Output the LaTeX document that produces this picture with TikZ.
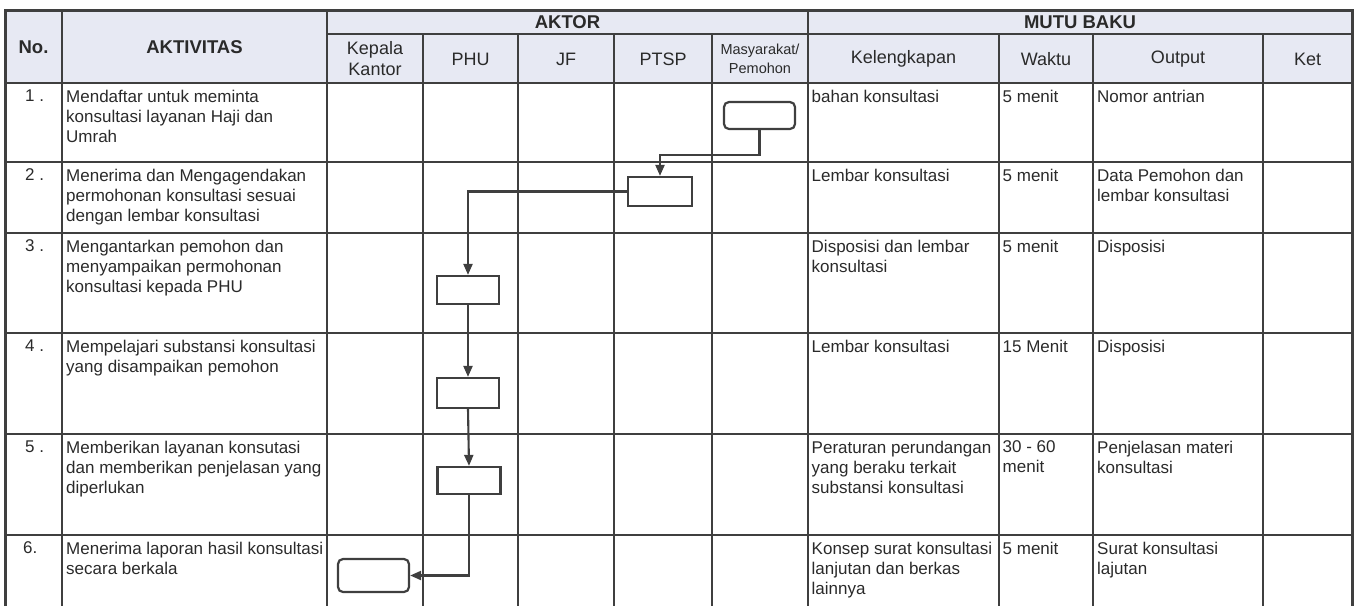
\documentclass[tikz,border=0pt]{standalone}
\usepackage{fontspec}
\setmainfont{Liberation Sans}
\usetikzlibrary{arrows.meta}
\definecolor{hdrfill}{HTML}{E7E9F3}
\definecolor{ink}{HTML}{2A2A2A}
\definecolor{rule}{HTML}{3F3F3F}

\begin{document}
\begin{tikzpicture}[x=1pt,y=-1pt,
    grid/.style={draw=rule,line width=2.1pt},
    frame/.style={draw=rule,line width=3pt},
    cell/.style={anchor=north west,inner sep=0pt,align=left,text=ink,
      font=\fontsize{17}{20}\selectfont},
    hd/.style={inner sep=0pt,align=center,text=ink,font=\fontsize{18}{21}\selectfont},
    hdb/.style={inner sep=0pt,align=center,text=ink,font=\fontsize{18.5}{21}\selectfont\bfseries},
    act/.style={draw=rule,line width=2.2pt,minimum width=63pt,minimum height=29pt,inner sep=0pt},
    term/.style={act,rounded corners=5pt,minimum width=71pt},
    flow/.style={draw=rule,line width=2.1pt,-{Triangle[length=11pt,width=9pt]}}]
    \useasboundingbox (0,0) rectangle (1360,606);
    \fill[hdrfill] (5,10) rectangle (1352,83);
    \draw[grid] (327,34) -- (1352,34);
    \draw[grid] (5,83) -- (1352,83);
    \draw[grid] (5,162) -- (1352,162);
    \draw[grid] (5,233) -- (1352,233);
    \draw[grid] (5,333) -- (1352,333);
    \draw[grid] (5,434) -- (1352,434);
    \draw[grid] (5,535) -- (1352,535);
    \draw[grid] (62,10) -- (62,606);
    \draw[grid] (327,10) -- (327,606);
    \draw[grid] (808,10) -- (808,606);
    \draw[grid] (423,34) -- (423,606);
    \draw[grid] (518,34) -- (518,606);
    \draw[grid] (614,34) -- (614,606);
    \draw[grid] (712,34) -- (712,606);
    \draw[grid] (999,34) -- (999,606);
    \draw[grid] (1093,34) -- (1093,606);
    \draw[grid] (1263,34) -- (1263,606);
    \draw[frame] (5,606) -- (5,10) -- (1352,10) -- (1352,606);
    % header
    \node[hdb] (H0_0) at (33.5,47) {No.};
    \node[hdb] (H0_1) at (194.5,47) {AKTIVITAS};
    \node[hdb] (H0_2) at (567.5,22) {AKTOR};
    \node[hdb] (H0_3) at (1080,22) {MUTU BAKU};
    \node[hd] (H1_1) at (375,59) {Kepala\\Kantor};
    \node[hd] (H1_2) at (470.5,59) {PHU};
    \node[hd] (H1_3) at (566,59) {JF};
    \node[hd] (H1_4) at (663,59) {PTSP};
    \node[hd,font=\fontsize{14.5}{19}\selectfont] (H1_5) at (760,58.5) {Masyarakat/\\Pemohon};
    \node[hd] (H1_6) at (903.5,59) {Kelengkapan};
    \node[hd] (H1_7) at (1046,59) {Waktu};
    \node[hd] (H1_8) at (1178,59) {Output};
    \node[hd] (H1_9) at (1307.5,59) {Ket};
    % rows
    \node[cell] (N1) at (25,90) {1 .};
    \node[cell] (A1) at (66,90) {Mendaftar untuk meminta\\konsultasi layanan Haji dan\\Umrah};
    \node[cell] (K1) at (811.5,90) {bahan konsultasi};
    \node[cell] (W1) at (1002.5,90) {5 menit};
    \node[cell] (O1) at (1097,90) {Nomor antrian};
    \node[cell] (N2) at (25,168.5) {2 .};
    \node[cell] (A2) at (66,168.5) {Menerima dan Mengagendakan\\permohonan konsultasi sesuai\\dengan lembar konsultasi};
    \node[cell] (K2) at (811.5,168.5) {Lembar konsultasi};
    \node[cell] (W2) at (1002.5,168.5) {5 menit};
    \node[cell] (O2) at (1097,168.5) {Data Pemohon dan\\lembar konsultasi};
    \node[cell] (N3) at (25,239.5) {3 .};
    \node[cell] (A3) at (66,239.5) {Mengantarkan pemohon dan\\menyampaikan permohonan\\konsultasi kepada PHU};
    \node[cell] (K3) at (811.5,239.5) {Disposisi dan lembar\\konsultasi};
    \node[cell] (W3) at (1002.5,239.5) {5 menit};
    \node[cell] (O3) at (1097,239.5) {Disposisi};
    \node[cell] (N4) at (25,339.5) {4 .};
    \node[cell] (A4) at (66,339.5) {Mempelajari substansi konsultasi\\yang disampaikan pemohon};
    \node[cell] (K4) at (811.5,339.5) {Lembar konsultasi};
    \node[cell] (W4) at (1002.5,339.5) {15 Menit};
    \node[cell] (O4) at (1097,339.5) {Disposisi};
    \node[cell] (N5) at (25,440.5) {5 .};
    \node[cell] (A5) at (66,440.5) {Memberikan layanan konsutasi\\dan memberikan penjelasan yang\\diperlukan};
    \node[cell] (K5) at (811.5,440.5) {Peraturan perundangan\\yang beraku terkait\\substansi konsultasi};
    \node[cell] (W5) at (1002.5,440.5) {30 - 60\\menit};
    \node[cell] (O5) at (1097,440.5) {Penjelasan materi\\konsultasi};
    \node[cell] (N6) at (23,541.5) {6.};
    \node[cell] (A6) at (66,541.5) {Menerima laporan hasil konsultasi\\secara berkala};
    \node[cell] (K6) at (811.5,541.5) {Konsep surat konsultasi\\lanjutan dan berkas\\lainnya};
    \node[cell] (W6) at (1002.5,541.5) {5 menit};
    \node[cell] (O6) at (1097,541.5) {Surat konsultasi\\lajutan};
    % flow
    \node[term,minimum height=27pt] (B1_5) at (759.5,115.5) {};
    \node[act,minimum width=64pt] (B2_4) at (660,191.5) {};
    \node[act,minimum width=62pt,minimum height=28pt] (B3_2) at (468,290) {};
    \node[act,minimum width=62pt,minimum height=30pt] (B4_2) at (468,393) {};
    \node[act,minimum width=63pt,minimum height=27pt] (B5_2) at (469,480.5) {};
    \node[term,minimum height=33pt] (B6_1) at (373.5,575.5) {};
    \path[flow] (B1_5.south) -- ++(0,25) -| (B2_4.north);
    \path[flow] (B2_4.west) -| (B3_2.north);
    \path[flow] (B3_2.south) -- (B4_2.north);
    \path[flow] (B4_2.south) -- (B5_2.north);
    \path[flow] (B5_2.south) |- (B6_1.east);
  \end{tikzpicture}
\end{document}
